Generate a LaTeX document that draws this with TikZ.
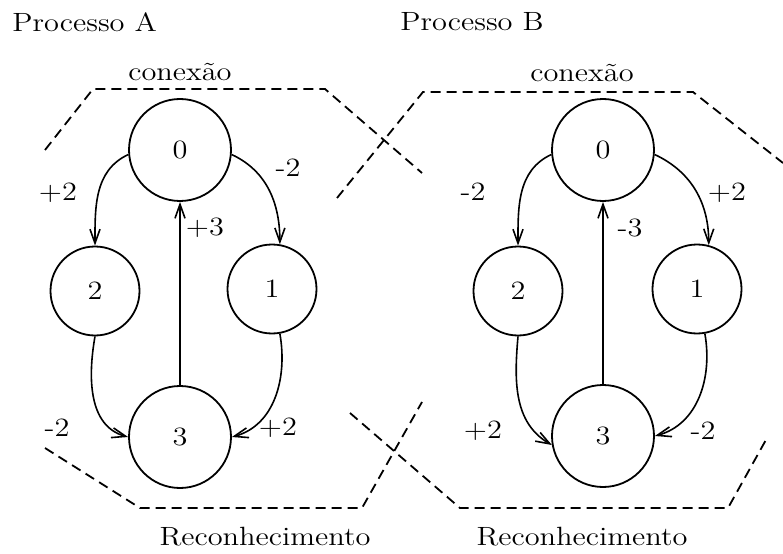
\documentclass[tikz,border=0pt]{standalone}
\usepackage{amsmath}
\usepackage{fontspec}
\setmainfont{Latin Modern Roman}[FakeStretch=1.15]
\usepackage{tikz}
\usetikzlibrary{arrows.meta}

\begin{document}
\begin{tikzpicture}[x=0.5pt,y=0.5pt]
\tikzstyle{every node}+=[inner sep=0pt,font=\fontsize{13.2}{15}\selectfont]
\tikzstyle{big}=[draw,circle,line width=0.9pt,minimum size=51pt]
\tikzstyle{small}=[draw,circle,line width=0.9pt,minimum size=44.5pt]
\tikzstyle{trans}=[line width=0.8pt,-{Straight Barb[length=7pt,width=5pt]}]
\tikzstyle{region}=[line width=0.9pt,dash pattern=on 5pt off 3pt]
\useasboundingbox (0,0) rectangle (783,553);
% processo A
\node [anchor=west] (titA) at (12,531) {Processo A};
\node [big] (a0) at (180,403) {0};
\node [small] (a2) at (95,262) {2};
\node [small] (a1) at (272,264) {1};
\node [big] (a3) at (180,116) {3};
\draw [trans] (a0.185) to[out=205,in=90] (a2.north);
\draw [trans] (a0.355) to[out=-25,in=90] (a1.80);
\draw [trans] (a3) -- (a0);
\draw [trans] (a2.south) to[out=-100,in=165] (a3.west);
\draw [trans] (a1.-80) to[out=-80,in=15] (a3.east);
\node (lA02) at (58,360) {+2};
\node (lA01) at (288,385) {-2};
\node (lA30) at (205,325) {+3};
\node (lA23) at (57,125) {-2};
\node (lA13) at (278,125) {+2};
% processo B
\node [anchor=west] (titB) at (400,531) {Processo B};
\node [big] (b0) at (603,403) {0};
\node [small] (b2) at (518,262) {2};
\node [small] (b1) at (697,264) {1};
\node [big] (b3) at (603,117) {3};
\draw [trans] (b0.185) to[out=205,in=90] (b2.north);
\draw [trans] (b0.355) to[out=-25,in=90] (b1.75);
\draw [trans] (b3) -- (b0);
\draw [trans] (b2.south) to[out=-95,in=150] (b3.190);
\draw [trans] (b1.-80) to[out=-80,in=15] (b3.east);
\node (lB02) at (473,361) {-2};
\node (lB01) at (727,360) {+2};
\node (lB30) at (630,325) {-3};
\node (lB23) at (483,122) {+2};
\node (lB13) at (703,122) {-2};
% regioes tracejadas
\draw [region] (45,403) -- (93,464) -- (325,464) -- (422,380);
\draw [region] (45,105) -- (140,45) -- (362,45) -- (422,151);
\draw [region] (337,355) -- (423,461) -- (693,461) -- (783,390);
\draw [region] (350,140) -- (460,45) -- (728,45) -- (767,115);
\node (conA) at (180,481) {conexão};
\node (conB) at (582,480) {conexão};
\node (recA) at (265,16) {Reconhecimento};
\node (recB) at (582,16) {Reconhecimento};
\end{tikzpicture}
\end{document}
